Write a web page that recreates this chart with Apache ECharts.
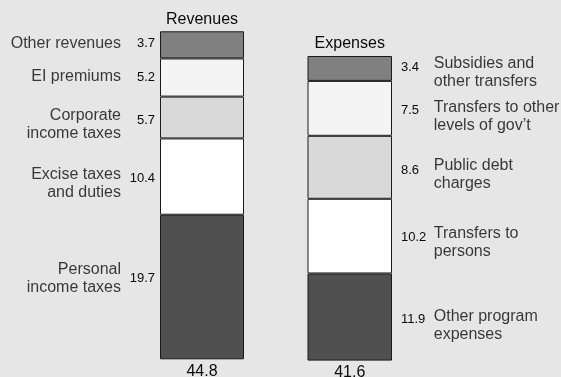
<!DOCTYPE html>
<html>
<head>
<meta charset="utf-8">
<script src="https://cdn.jsdelivr.net/npm/echarts@6/dist/echarts.min.js"></script>
<style>
html,body{margin:0;padding:0;background:#e6e6e6;}
#c{width:561px;height:377px;}
</style>
</head>
<body>
<div id="c"></div>
<script>
// ---- data (bottom segment first) ----
const titles = ['Revenues', 'Expenses'];
const totals = ['44.8', '41.6'];
const revNames = ['Personal\nincome taxes', 'Excise taxes\nand duties', 'Corporate\nincome taxes', 'EI premiums', 'Other revenues'];
const revValues = [19.7, 10.4, 5.7, 5.2, 3.7];
const expNames = ['Other program\nexpenses', 'Transfers to\npersons', 'Public debt\ncharges', 'Transfers to other\nlevels of gov\u2019t', 'Subsidies and\nother transfers'];
const expValues = [11.9, 10.2, 8.6, 7.5, 3.4];

// ---- styling ----
const segColors = ['#505050', '#ffffff', '#d9d9d9', '#f4f4f4', '#808080'];
const revNameDy = [-8, 7.5, 7.5, -1, -1.5];
const revValDy = [-8.6, 2, 2.5, 0, -1];
const expNameDy = [8.7, 6.6, 7.5, 8, 4.5];
const expValDy = [2, 1, 3.5, 2, -1.5];
const FONT = 'Liberation Sans, Arial, Helvetica, sans-serif';
const TXT = '#0a0a0a';

const sum = a => a.reduce((s, v) => s + v, 0);

function buildSide(gi, names, values, nameDy, valDy, side) {
  const series = [];
  const stackName = 'st' + gi;
  values.forEach((v, i) => {
    series.push({
      type: 'bar',
      xAxisIndex: gi * 2,
      yAxisIndex: gi,
      stack: stackName,
      barWidth: '100%',
      silent: true,
      itemStyle: {color: segColors[i], borderColor: '#1a1a1a', borderWidth: 1},
      label: {
        show: true,
        position: side,
        distance: side === 'left' ? 5 : 9,
        offset: [0, valDy[i]],
        fontFamily: FONT,
        fontSize: 13,
        color: TXT,
        formatter: () => v.toFixed(1)
      },
      data: [v]
    });
  });
  // name labels placed at segment centres through the axes
  let acc = 0;
  const pts = values.map((v, i) => {
    const mid = acc + v / 2;
    acc += v;
    return {value: [0, mid], name: names[i], label: {offset: [0, nameDy[i]]}};
  });
  series.push({
    type: 'scatter',
    xAxisIndex: gi * 2,
    yAxisIndex: gi,
    symbolSize: 1,
    silent: true,
    itemStyle: {color: 'rgba(0,0,0,0)'},
    label: {
      show: true,
      position: side,
      distance: side === 'left' ? 80.5 : 83.5,
      fontFamily: FONT,
      fontSize: 16,
      lineHeight: 18,
      color: TXT,
      align: side === 'left' ? 'right' : 'left',
      formatter: p => p.name
    },
    data: pts
  });
  return series;
}

function axesFor(gi) {
  return [
    {
      gridIndex: gi, type: 'category', position: 'bottom', data: [totals[gi]],
      axisLine: {show: false}, axisTick: {show: false},
      axisLabel: {margin: 4, fontFamily: FONT, fontSize: 16, color: TXT}
    },
    {
      gridIndex: gi, type: 'category', position: 'top', data: [titles[gi]],
      axisLine: {show: false}, axisTick: {show: false},
      axisLabel: {margin: 4, fontFamily: FONT, fontSize: 16, color: TXT}
    }
  ];
}

const chart = echarts.init(document.getElementById('c'), null, {renderer: 'canvas'});
chart.setOption({
  backgroundColor: '#e6e6e6',
  animation: false,
  grid: [
    {left: 160, top: 31.3, width: 84, height: 328, containLabel: false, outerBoundsMode: 'none'},
    {left: 307.5, top: 56, width: 84.5, height: 304.6, containLabel: false, outerBoundsMode: 'none'}
  ],
  xAxis: [...axesFor(0), ...axesFor(1)],
  yAxis: [
    {gridIndex: 0, type: 'value', min: 0, max: sum(revValues), show: false, splitLine: {show: false}},
    {gridIndex: 1, type: 'value', min: 0, max: sum(expValues), show: false, splitLine: {show: false}}
  ],
  series: [
    ...buildSide(0, revNames, revValues, revNameDy, revValDy, 'left'),
    ...buildSide(1, expNames, expValues, expNameDy, expValDy, 'right')
  ]
});
</script>
</body>
</html>
